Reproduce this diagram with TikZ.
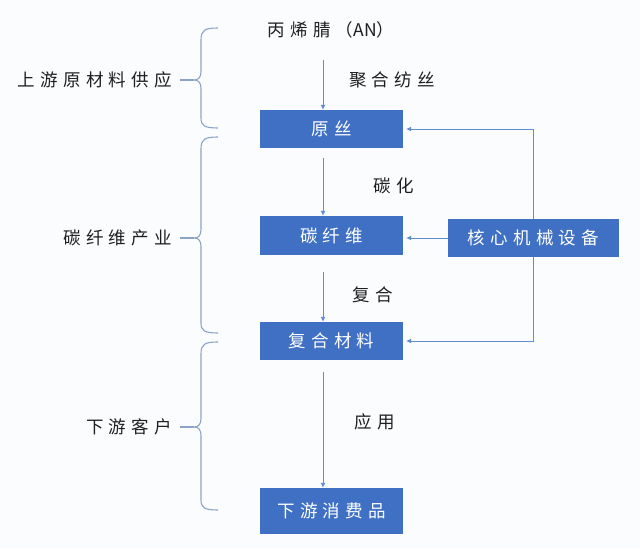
\documentclass[tikz,border=0pt]{standalone}
\usepackage{fontspec}
\setmainfont{Liberation Sans}
\newfontfamily\cjk[LetterSpace=30]{Noto Sans CJK SC}
\newfontfamily\cjkplain{Noto Sans CJK SC}
\usetikzlibrary{arrows.meta,calc}
\definecolor{boxblue}{HTML}{3F70C4}
\definecolor{lineblue}{HTML}{5F8CD2}
\definecolor{bracecol}{HTML}{8AA4C8}
\definecolor{bgcol}{HTML}{FBFCFE}
\tikzset{
  stagebox/.style={fill=boxblue,draw=none,text=white,minimum width=143pt,inner sep=0pt,font=\cjk\fontsize{17.5}{19}\selectfont},
  lbl/.style={text=black!88,inner sep=0pt,font=\cjk\fontsize{17.5}{19}\selectfont},
  arr/.style={draw=lineblue,line width=0.9pt,-{Latex[length=5pt,width=5pt]}},
  bracepath/.style={draw=bracecol,line width=1.1pt},
}
\begin{document}
\begin{tikzpicture}[x=1pt,y=-1pt]
\fill[bgcol] (0,0) rectangle (640,548);
\useasboundingbox (0,0) rectangle (640,548);
% boxes
\node[stagebox,minimum height=38pt] (yuansi) at (331.5,129) {原丝};
\node[stagebox,minimum height=39pt] (tanxw) at (331.5,235.5) {碳纤维};
\node[stagebox,minimum height=38pt] (fuhe) at (331.5,341) {复合材料};
\node[stagebox,minimum height=46pt] (xiayou) at (331.5,511) {下游消费品};
\node[stagebox,minimum width=171pt,minimum height=38pt] (hexin) at (533.5,238) {核心机械设备};
% labels
\node[lbl] (an) at (331,30) {丙烯腈（{\cjkplain AN}）};
\node[lbl] (l1) at (392,80) {聚合纺丝};
\node[lbl] (l2) at (394,186) {碳化};
\node[lbl] (l3) at (373,295) {复合};
\node[lbl] (l4) at (375,422) {应用};
\node[lbl,anchor=east] (s1) at (172,80) {上游原材料供应};
\node[lbl,anchor=east] (s2) at (172,238) {碳纤维产业};
\node[lbl,anchor=east] (s3) at (172,427) {下游客户};
% vertical arrows
\coordinate (a0) at (323,60);
\draw[arr] (a0) -- (a0 |- yuansi.north);
\coordinate (a1) at (323,158);
\draw[arr] (a1) -- (a1 |- tanxw.north);
\coordinate (a2) at (323,272);
\draw[arr] (a2) -- (a2 |- fuhe.north);
\coordinate (a3) at (323,372);
\draw[arr] (a3) -- (a3 |- xiayou.north);
% side connectors
\draw[arr] (hexin.north) |- ([xshift=3pt]yuansi.east);
\draw[arr] (hexin.south) |- ([xshift=3pt]fuhe.east);
\draw[arr] (hexin.west) -- ([xshift=3pt]hexin.west -| tanxw.east);
% braces
\draw[bracepath] (218,28) .. controls (205,28) and (201,30) .. (201,40) -- (201,71)
  .. controls (201,77) and (199,80) .. (194,80) .. controls (199,80) and (201,83) .. (201,89)
  -- (201,118) .. controls (201,126) and (205,128) .. (218,128);
\draw[bracepath] (180,80) -- (194,80);
\draw[bracepath] (218,137) .. controls (205,137) and (201,139) .. (201,149) -- (201,229)
  .. controls (201,235) and (199,238) .. (194,238) .. controls (199,238) and (201,241) .. (201,247)
  -- (201,323) .. controls (201,331) and (205,333) .. (218,333);
\draw[bracepath] (180,238) -- (194,238);
\draw[bracepath] (218,342) .. controls (205,342) and (201,344) .. (201,354) -- (201,418)
  .. controls (201,424) and (199,427) .. (194,427) .. controls (199,427) and (201,430) .. (201,436)
  -- (201,500) .. controls (201,508) and (205,510) .. (218,510);
\draw[bracepath] (180,427) -- (194,427);
\end{tikzpicture}
\end{document}
